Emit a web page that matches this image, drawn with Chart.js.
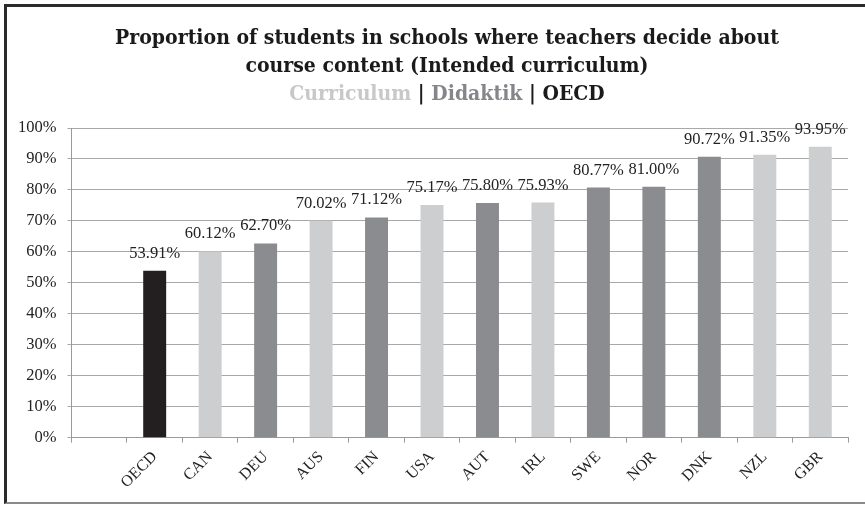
<!DOCTYPE html>
<html>
<head>
<meta charset="utf-8">
<script src="https://cdn.jsdelivr.net/npm/chart.js@4"></script>
<style>
  html, body { margin: 0; padding: 0; background: #fff; }
  #wrap { position: relative; width: 865px; height: 505px; overflow: hidden; }
  #frame { position: absolute; left: 4px; top: 4px; width: 900px; height: 500px; box-sizing: border-box;
           border-left: 3px solid #2b2b2b; border-top: 3px solid #2b2b2b; border-bottom: 2px solid #8a8a8a; }
  #titulo { position: absolute; left: 0; top: 23px; width: 894px; text-align: center;
            font-family: 'DejaVu Serif Condensed', 'DejaVu Serif', serif; font-stretch: condensed;
            font-weight: bold; font-size: 21px; line-height: 28px; color: #1a1a1a; }
  .cur { color: #c8c8ca; }
  .did { color: #85868a; }
  #grafico { position: absolute; left: 0; top: 0; }
</style>
</head>
<body>
<div id="wrap">
  <div id="frame"></div>
  <canvas id="grafico" width="865" height="505"></canvas>
  <div id="titulo">
    Proportion of students in schools where teachers decide about<br>
    course content (Intended curriculum)<br>
    <span class="cur">Curriculum</span> | <span class="did">Didaktik</span> | OECD
  </div>
</div>
<script>
const paises = ['', 'OECD', 'CAN', 'DEU', 'AUS', 'FIN', 'USA', 'AUT', 'IRL', 'SWE', 'NOR', 'DNK', 'NZL', 'GBR'];
const valores = [null, 53.91, 60.12, 62.70, 70.02, 71.12, 75.17, 75.80, 75.93, 80.77, 81.00, 90.72, 91.35, 93.95];
const grupos = ['', 'oecd', 'cur', 'did', 'cur', 'did', 'cur', 'did', 'cur', 'did', 'did', 'did', 'cur', 'cur'];
const ticksY = [0, 10, 20, 30, 40, 50, 60, 70, 80, 90, 100];

const colores = { oecd: '#231f20', cur: '#cdced0', did: '#8b8c90', '': '#ffffff' };

// etiquetas encima de cada barra
const etiquetas = {
    id: 'etiquetas',
    afterDatasetsDraw(chart) {
        const ctx = chart.ctx;
        const meta = chart.getDatasetMeta(0);
        ctx.save();
        ctx.font = '16.5px "Liberation Serif"';
        ctx.fillStyle = '#222';
        ctx.textAlign = 'center';
        ctx.textBaseline = 'alphabetic';
        meta.data.forEach((bar, i) => {
            if (valores[i] == null) return;
            ctx.fillText(valores[i].toFixed(2) + '%', bar.x, bar.y - 13);
        });
        ctx.restore();
    }
};

new Chart(document.getElementById('grafico').getContext('2d'), {
    type: 'bar',
    data: {
        labels: paises,
        datasets: [{
            data: valores,
            backgroundColor: grupos.map(g => colores[g]),
            barPercentage: 0.414,
            categoryPercentage: 1
        }]
    },
    options: {
        responsive: false,
        animation: false,
        layout: { padding: { top: 128, left: 7, right: 17, bottom: 8 } },
        plugins: { legend: { display: false }, tooltip: { enabled: false }, title: { display: false } },
        scales: {
            x: {
                grid: { display: true, drawOnChartArea: false, tickLength: 5, color: '#9a9a9a', offset: true },
                border: { color: '#9a9a9a' },
                ticks: {
                    minRotation: 45, maxRotation: 45, padding: 5,
                    color: '#222', font: { family: 'Liberation Serif', size: 16 }
                }
            },
            y: {
                min: 0, max: 100,
                afterBuildTicks(axis) { axis.ticks = ticksY.map(v => ({ value: v })); },
                grid: { color: '#a8a8a8', tickLength: 4 },
                border: { color: '#9a9a9a' },
                ticks: {
                    padding: 11, color: '#222',
                    font: { family: 'Liberation Serif', size: 16.5 },
                    callback: v => v + '%'
                }
            }
        }
    },
    plugins: [etiquetas]
});
</script>
</body>
</html>
